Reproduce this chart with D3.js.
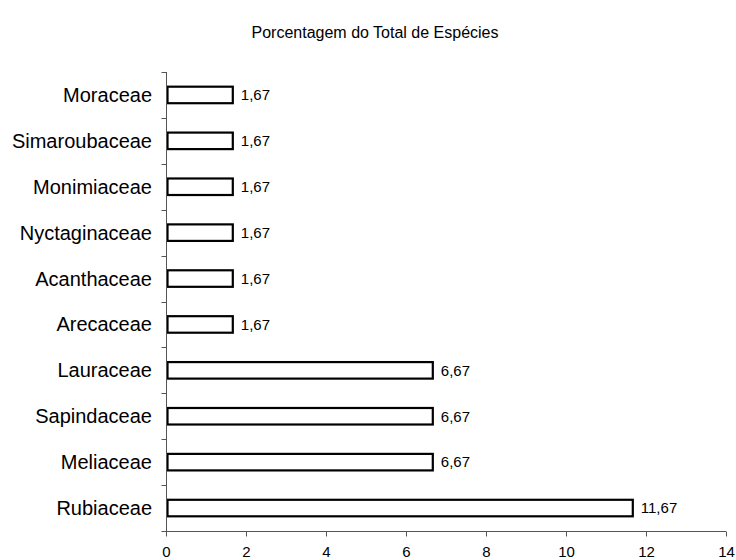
<!DOCTYPE html>
<html><head><meta charset="utf-8">
<script src="https://cdn.jsdelivr.net/npm/d3@7"></script>
<style>body{margin:0;background:#fff}svg{display:block}text{font-family:"Liberation Sans",Arial,sans-serif}</style>
</head><body>
<svg id="c" width="736" height="560"></svg>
<script>
const categories = ["Moraceae","Simaroubaceae","Monimiaceae","Nyctaginaceae","Acanthaceae","Arecaceae","Lauraceae","Sapindaceae","Meliaceae","Rubiaceae"];
const values = [1.67,1.67,1.67,1.67,1.67,1.67,6.67,6.67,6.67,11.67];
const valueLabels = ["1,67","1,67","1,67","1,67","1,67","1,67","6,67","6,67","6,67","11,67"];
const xTicks = [0,2,4,6,8,10,12,14];
const title = "Porcentagem do Total de Espécies";

const svg = d3.select("#c");
const x = d3.scaleLinear().domain([0,14]).range([166,726]);
const yb = d3.scaleBand().domain(categories).range([72,531]);
const y = d3.scaleBand().domain(categories).range([72,531]).paddingInner(0.64).paddingOuter(0.32);

svg.append("text").attr("x",375).attr("y",38).attr("text-anchor","middle")
  .attr("font-size",16).text(title);

// bars
svg.selectAll("rect.bar").data(categories).join("rect")
  .attr("x",x(0)+1.5).attr("y",d=>yb(d)+yb.bandwidth()/2-y.bandwidth()/2)
  .attr("width",(d,i)=>x(values[i])-x(0)-1.5).attr("height",y.bandwidth())
  .attr("fill","#fff").attr("stroke","#000").attr("stroke-width",2.2);

svg.selectAll("text.val").data(categories).join("text")
  .attr("x",(d,i)=>x(values[i])+8).attr("y",d=>yb(d)+yb.bandwidth()/2)
  .attr("dy","0.35em").attr("font-size",15).text((d,i)=>valueLabels[i]);

// x axis
const ax = svg.append("g").attr("transform","translate(0,531.5)")
  .call(d3.axisBottom(x).tickValues(xTicks).tickSize(5).tickPadding(10).tickFormat(d3.format("d")));
ax.selectAll("path,line").attr("stroke","#555");
ax.select(".domain").attr("d","M166,0H726");
ax.selectAll("text").attr("font-size",15).attr("fill","#000").attr("font-family","Liberation Sans, Arial, sans-serif");

// y axis
const ay = svg.append("g").attr("transform","translate(166.5,0)");
ay.append("line").attr("x1",0).attr("x2",0).attr("y1",72).attr("y2",531).attr("stroke","#555");
const bounds = categories.map(d=>yb(d)).concat([531]);
ay.selectAll("line.t").data(bounds).join("line")
  .attr("x1",-5).attr("x2",0).attr("y1",d=>Math.round(d)+0.5).attr("y2",d=>Math.round(d)+0.5).attr("stroke","#555");
svg.selectAll("text.cat").data(categories).join("text")
  .attr("x",152).attr("y",d=>yb(d)+yb.bandwidth()/2).attr("dy","0.35em")
  .attr("text-anchor","end").attr("font-size",20).text(d=>d);
</script>
</body></html>
